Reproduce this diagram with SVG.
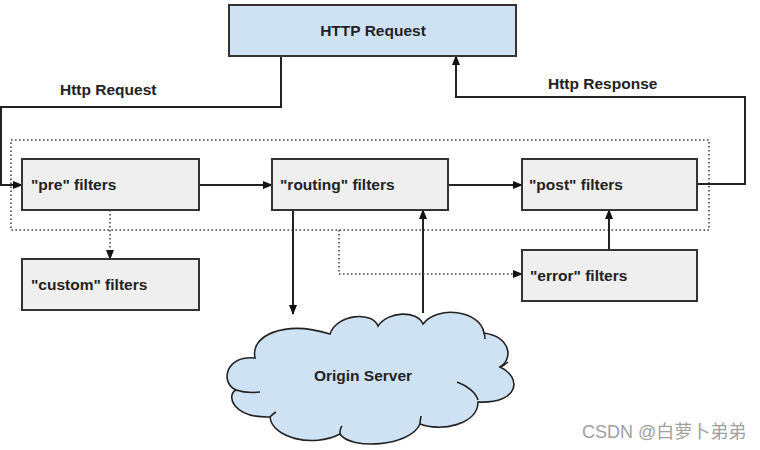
<svg xmlns="http://www.w3.org/2000/svg" width="760" height="450" viewBox="0 0 760 450">
<defs>
<style>
.box{fill:#efefef;stroke:#333;stroke-width:2}
.req{fill:#cfe2f3;stroke:#333;stroke-width:2}
.t{font-family:"Liberation Sans",Arial,sans-serif;font-weight:bold;font-size:15.5px;fill:#222}
.ln{fill:none;stroke:#222;stroke-width:2}
.dot{fill:none;stroke:#444;stroke-width:1.6;stroke-dasharray:1.6 2.4}
</style>
<marker id="ah" viewBox="0 0 10 10" refX="9" refY="5" markerWidth="10" markerHeight="10" markerUnits="userSpaceOnUse" orient="auto">
<path d="M0,1 L10,5 L0,9 z" fill="#111"/>
</marker>
</defs>
<rect width="760" height="450" fill="#fff"/>
<rect x="11" y="140" width="698" height="90" class="dot" id="filter-zone"/>
<g id="connectors">
<path class="ln" d="M281,56 V107 H1 V185 H22" marker-end="url(#ah)"/>
<path class="ln" d="M199,185 H272" marker-end="url(#ah)"/>
<path class="ln" d="M448,185 H522" marker-end="url(#ah)"/>
<path class="ln" d="M697,184 H745 V97 H456 V56" marker-end="url(#ah)"/>
<path class="dot" d="M110,210 V259" marker-end="url(#ah)"/>
<path class="ln" d="M293,210 V314" marker-end="url(#ah)"/>
<path class="ln" d="M423,313 V210" marker-end="url(#ah)"/>
<path class="ln" d="M609,250 V210" marker-end="url(#ah)"/>
<path class="dot" d="M339,230 V274 H522" marker-end="url(#ah)"/>
<text class="t" x="60" y="95">Http Request</text>
<text class="t" x="548" y="89">Http Response</text>
</g>
<g id="http-request">
<rect class="req" x="229" y="5" width="287" height="51"/>
<text class="t" x="373" y="36" text-anchor="middle">HTTP Request</text>
</g>
<g id="pre-filters">
<rect class="box" x="22" y="159" width="177" height="51"/>
<text class="t" x="31" y="190">"pre" filters</text>
</g>
<g id="routing-filters">
<rect class="box" x="272" y="159" width="176" height="51"/>
<text class="t" x="280" y="190">"routing" filters</text>
</g>
<g id="post-filters">
<rect class="box" x="522" y="159" width="175" height="51"/>
<text class="t" x="529" y="190">"post" filters</text>
</g>
<g id="custom-filters">
<rect class="box" x="22" y="259" width="177" height="51"/>
<text class="t" x="31" y="290">"custom" filters</text>
</g>
<g id="error-filters">
<rect class="box" x="522" y="250" width="175" height="51"/>
<text class="t" x="530" y="281">"error" filters</text>
</g>
<g id="origin-server">
<path fill="#cfe2f3" stroke="#222" stroke-width="1.6" d="M255,358 C250,335 285,320 330,334 C337,314 372,311 378,326 C388,311 417,310 423,324 C437,305 480,310 484,333 C510,337 514,358 500,367 C522,377 520,404 478,402 C478,425 440,432 420,424 C410,447 350,450 340,434 C313,448 272,438 270,417 C232,418 226,395 236,390 C220,383 225,355 255,358 Z"/>
<path fill="none" stroke="#222" stroke-width="1.6" d="M236,390 C242,392 252,393 260,392 M270,417 C272,415 274,413 276,412 M457,382 C468,386 476,393 478,400 M500,367 C503,366 506,364 508,362 M484,333 C485,335 485,337 485,339 M340,434 C340,430 341,427 342,426 M420,424 C420,420 421,418 421,416"/>
<text class="t" x="363" y="381" text-anchor="middle">Origin Server</text>
</g>
<text x="582" y="438" font-family="Liberation Sans,'Noto Sans CJK SC',sans-serif" font-size="18" fill="#a0a0a0">CSDN @白萝卜弟弟</text>
</svg>
